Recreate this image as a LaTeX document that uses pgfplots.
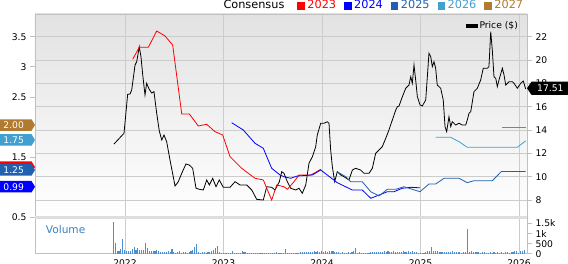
\documentclass[border=0pt]{standalone}
\usepackage{pgfplots}
\pgfplotsset{compat=1.18}
\usepackage{pgfplotstable}
\usepackage{fontspec}
\setmainfont{DejaVu Sans}
\definecolor{c23}{RGB}{255,0,0}
\definecolor{c24}{RGB}{0,0,255}
\definecolor{c25}{RGB}{32,96,176}
\definecolor{c26}{RGB}{64,160,208}
\definecolor{c27}{RGB}{176,122,48}
\definecolor{volc}{RGB}{74,144,208}
\definecolor{voltext}{RGB}{58,128,192}
\definecolor{gridc}{RGB}{204,204,204}
\definecolor{framec}{RGB}{192,192,192}
\definecolor{bandc}{RGB}{222,222,222}
\definecolor{bgtop}{RGB}{226,226,226}
\newcommand\tickfont{\fontsize{9.2}{11}\selectfont}
\newcommand\legfont{\fontsize{11.3}{13}\selectfont}

\pgfplotstableread{
yr p
2021.888 12.80
2021.990 13.72
2022.027 17.06
2022.051 17.09
2022.068 17.43
2022.102 19.57
2022.119 19.86
2022.145 21.14
2022.162 20.29
2022.180 18.72
2022.203 17.00
2022.220 18.01
2022.244 17.52
2022.271 17.17
2022.294 17.29
2022.322 15.43
2022.348 13.92
2022.373 13.15
2022.396 13.57
2022.423 13.00
2022.457 11.43
2022.508 9.20
2022.541 9.57
2022.576 10.29
2022.619 11.09
2022.653 11.00
2022.687 10.72
2022.721 9.01
2022.754 8.92
2022.795 8.86
2022.830 9.72
2022.856 9.29
2022.890 9.86
2022.924 9.14
2022.957 9.72
2022.998 9.09
2023.066 9.09
2023.117 9.57
2023.168 9.29
2023.236 9.29
2023.287 8.86
2023.337 8.06
2023.404 8.00
2023.439 9.14
2023.489 9.09
2023.523 8.86
2023.567 9.57
2023.591 10.43
2023.614 10.29
2023.648 9.57
2023.682 9.01
2023.733 8.86
2023.766 9.01
2023.800 8.58
2023.835 9.29
2023.868 11.15
2023.902 11.71
2023.936 12.57
2023.952 13.57
2023.987 14.58
2024.020 14.58
2024.054 14.71
2024.071 14.58
2024.088 12.29
2024.105 10.86
2024.129 9.57
2024.155 10.43
2024.190 10.15
2024.223 10.00
2024.274 9.72
2024.308 10.57
2024.342 10.72
2024.393 10.57
2024.426 10.29
2024.477 10.29
2024.511 10.72
2024.545 12.01
2024.579 12.29
2024.612 12.57
2024.647 13.29
2024.680 14.00
2024.714 14.86
2024.749 15.72
2024.765 16.00
2024.782 16.06
2024.816 16.86
2024.850 17.58
2024.883 17.86
2024.901 18.57
2024.917 18.01
2024.934 19.57
2024.951 18.29
2024.968 16.86
2024.995 16.15
2025.018 16.06
2025.053 16.57
2025.086 20.58
2025.104 20.29
2025.120 19.43
2025.137 19.86
2025.154 19.29
2025.170 17.86
2025.205 17.58
2025.231 16.57
2025.249 14.29
2025.266 13.86
2025.289 15.14
2025.307 14.29
2025.323 14.71
2025.357 14.43
2025.391 14.58
2025.424 14.43
2025.459 14.43
2025.475 14.86
2025.492 15.43
2025.510 15.57
2025.543 17.29
2025.577 17.58
2025.611 18.29
2025.637 19.29
2025.678 19.29
2025.695 19.43
2025.713 22.43
2025.729 20.86
2025.746 18.57
2025.764 18.43
2025.780 17.71
2025.797 18.29
2025.831 19.29
2025.848 18.72
2025.865 17.86
2025.898 18.14
2025.932 18.14
2025.949 18.01
2025.983 17.58
2026.018 18.01
2026.044 18.20
2026.068 17.51
}\pricetab

\pgfplotstableread{
yr v
2022.078 3.125
2022.145 3.324
2022.237 3.324
2022.322 3.595
2022.406 3.512
2022.484 3.362
2022.576 2.216
2022.653 2.216
2022.744 2.017
2022.829 2.045
2022.914 1.922
2022.992 1.867
2023.066 1.507
2023.185 1.314
2023.320 1.148
2023.404 1.120
2023.489 0.787
2023.540 1.037
2023.614 1.008
2023.648 0.965
2023.716 1.091
2023.766 1.203
2023.817 1.203
2023.885 1.203
2023.919 1.231
2023.987 1.297
}\epsA

\pgfplotstableread{
yr v
2023.083 2.071
2023.201 1.950
2023.320 1.729
2023.404 1.646
2023.489 1.314
2023.574 1.203
2023.614 1.174
2023.682 1.148
2023.749 1.186
2023.902 1.203
2023.987 1.286
2024.155 1.075
2024.308 0.953
2024.409 0.953
2024.495 0.816
2024.579 0.870
2024.663 0.925
2024.731 0.925
2024.815 0.982
2024.900 0.998
2024.995 0.990
}\epsB

\pgfplotstableread{
yr v
2024.155 1.257
2024.241 1.174
2024.291 1.091
2024.409 1.091
2024.495 0.925
2024.579 0.854
2024.663 0.965
2024.749 0.965
2024.832 1.008
2024.995 0.925
2025.086 1.053
2025.154 1.053
2025.239 1.148
2025.391 1.148
2025.475 1.075
2025.543 1.108
2025.729 1.108
2025.821 1.260
2026.068 1.260
}\epsC

\pgfplotstableread{
yr v
2025.154 1.829
2025.307 1.829
2025.391 1.756
2025.475 1.663
2025.645 1.663
2025.983 1.663
2026.068 1.770
}\epsD

\pgfplotstableread{
yr v
2025.830 2.00
2026.068 2.00
}\epsE

\pgfplotstableread{
v
1600
550
150
150
230
730
180
150
150
130
230
350
210
300
210
210
210
530
270
150
130
150
130
200
130
100
80
80
100
150
80
230
80
60
100
150
60
80
80
60
80
130
180
350
480
100
60
80
80
60
80
80
120
180
300
370
80
60
50
40
50
40
50
120
40
50
40
60
120
90
100
50
40
30
40
60
40
40
50
30
40
30
40
40
30
40
80
40
30
60
50
250
40
30
30
60
50
40
60
80
100
90
100
80
110
100
120
90
140
110
130
90
120
100
140
120
150
100
80
70
60
90
50
60
80
60
100
120
280
60
100
50
40
30
40
50
80
90
110
90
100
80
90
120
100
140
100
80
120
100
90
110
100
130
90
100
120
80
160
100
80
60
50
50
60
80
120
160
320
150
140
120
100
90
80
70
100
90
110
120
100
90
70
80
60
80
90
1220
100
120
90
80
100
70
60
80
110
60
50
80
60
70
60
80
50
70
60
80
70
60
90
100
160
120
60
140
130
170
}\voltab

\newcommand\flag[3]{%
  \fill[#2] (axis cs:2021.0863,#1) -- ++(-3.5pt,5.75pt) -- ++(-32pt,0pt) -- ++(0pt,-11.5pt) -- ++(32pt,0pt) -- cycle;
  \path (axis cs:2021.0863,#1) ++(-31.8pt,0pt) node[anchor=west, inner sep=0pt, text=white, font=\tickfont] {#3};}

\begin{document}
\begin{tikzpicture}
\useasboundingbox (0pt,0pt) rectangle (568pt,264pt);

% ---------- price axis (right) ----------
\begin{axis}[
  at={(35pt,46.7pt)}, anchor=south west,
  scale only axis, width=492pt, height=203.3pt,
  xmin=2021.0863, xmax=2026.0812, ymin=6.52, ymax=23.946,
  axis line style={framec, line width=0.8pt},
  axis background/.style={top color=bgtop, bottom color=white},
  xtick={2022,2023,2024,2025,2026}, xticklabels={},
  x tick style={draw=none},
  xmajorgrids, ymajorgrids,
  grid style={gridc, line width=0.8pt},
  ytick={8,10,12,14,16,18,20,22},
  yticklabels={8,10,12,14,16,18,20,22},
  ytick pos=right, yticklabel pos=right,
  tick align=outside, major tick length=5pt,
  y tick style={framec, line width=0.6pt},
  yticklabel style={font=\tickfont},
  clip=false,
  legend style={at={(0.986,0.972)}, anchor=north east, draw=none, fill=none,
    font=\tickfont, inner sep=0pt},
  legend image code/.code={\fill[black] (0pt,-1.7pt) rectangle (10.5pt,1.7pt);},
]
\addplot[black, line width=0.8pt, mark=none] table[x=yr, y=p] {\pricetab};
\addlegendentry{Price (\$)}
\fill[black] (axis cs:2026.0812,17.58) -- ++(4.5pt,6.6pt) -- ++(37pt,0pt) -- ++(0pt,-13.2pt) -- ++(-37pt,0pt) -- cycle;
\path (axis cs:2026.0812,17.58) ++(10pt,0pt) node[anchor=west, inner sep=0pt, text=white, font=\tickfont] {17.51};
\end{axis}

% ---------- EPS axis (left) ----------
\begin{axis}[
  at={(35pt,46.7pt)}, anchor=south west,
  scale only axis, width=492pt, height=203.3pt,
  xmin=2021.0863, xmax=2026.0812, ymin=0.5, ymax=3.877,
  axis line style={draw=none},
  xtick=\empty,
  ytick={0.5,1.5,2.5,3,3.5}, yticklabels={0.5,1.5,2.5,3,3.5},
  ytick pos=left, tick align=outside, major tick length=5pt,
  y tick style={framec, line width=0.6pt},
  yticklabel style={font=\tickfont},
  clip=false,
]
\addplot[c23, line width=0.8pt, mark=none] table[x=yr, y=v] {\epsA};
\addplot[c24, line width=0.8pt, mark=none] table[x=yr, y=v] {\epsB};
\addplot[c25, line width=0.8pt, mark=none] table[x=yr, y=v] {\epsC};
\addplot[c26, line width=0.8pt, mark=none] table[x=yr, y=v] {\epsD};
\addplot[c27, line width=0.8pt, mark=none] table[x=yr, y=v] {\epsE};
\flag{2.033}{c27}{2.00}
\flag{1.784}{c26}{1.75}
\flag{1.335}{c23}{}
\flag{1.286}{c25}{1.25}
\flag{1.008}{c24}{0.99}
\end{axis}

% ---------- volume axis ----------
\begin{axis}[
  at={(35pt,10.2pt)}, anchor=south west,
  scale only axis, width=492pt, height=35.1pt,
  xmin=-41.33, xmax=218.4, ymin=0, ymax=1740,
  axis line style={framec, line width=0.8pt},
  xtick={6.18,58.18,110.18,162.18,214.18},
  xticklabels={2022,2023,2024,2025,2026},
  x tick style={draw=none},
  xmajorgrids, grid style={gridc, line width=0.8pt},
  xticklabel style={font=\tickfont, yshift=2.2pt},
  ytick={0,500,1000,1500}, yticklabels={0,500,1k,1.5k},
  ytick pos=right, yticklabel pos=right,
  tick align=outside, major tick length=5pt,
  y tick style={framec, line width=0.6pt},
  yticklabel style={font=\tickfont},
]
\addplot[ycomb, volc, line width=1.1pt, mark=none] table[x expr=\coordindex, y=v] {\voltab};
\end{axis}

\fill[bandc] (35pt,45.3pt) rectangle (527pt,47.6pt);
\node[anchor=base west, inner sep=0pt, text=voltext, font=\fontsize{10.6}{12}\selectfont] at (45.7pt,30.8pt) {Volume};

\node[anchor=base west, inner sep=0pt, font=\legfont] at (223.3pt,255pt) {Consensus\hspace{13pt}%
\textcolor{c23}{\raisebox{-1pt}{\rule{7.5pt}{7.5pt}}\hspace{2.5pt}2023}\hspace{8pt}%
\textcolor{c24}{\raisebox{-1pt}{\rule{7.5pt}{7.5pt}}\hspace{2.5pt}2024}\hspace{8pt}%
\textcolor{c25}{\raisebox{-1pt}{\rule{7.5pt}{7.5pt}}\hspace{2.5pt}2025}\hspace{8pt}%
\textcolor{c26}{\raisebox{-1pt}{\rule{7.5pt}{7.5pt}}\hspace{2.5pt}2026}\hspace{8pt}%
\textcolor{c27}{\raisebox{-1pt}{\rule{7.5pt}{7.5pt}}\hspace{2.5pt}2027}};
\end{tikzpicture}
\end{document}
